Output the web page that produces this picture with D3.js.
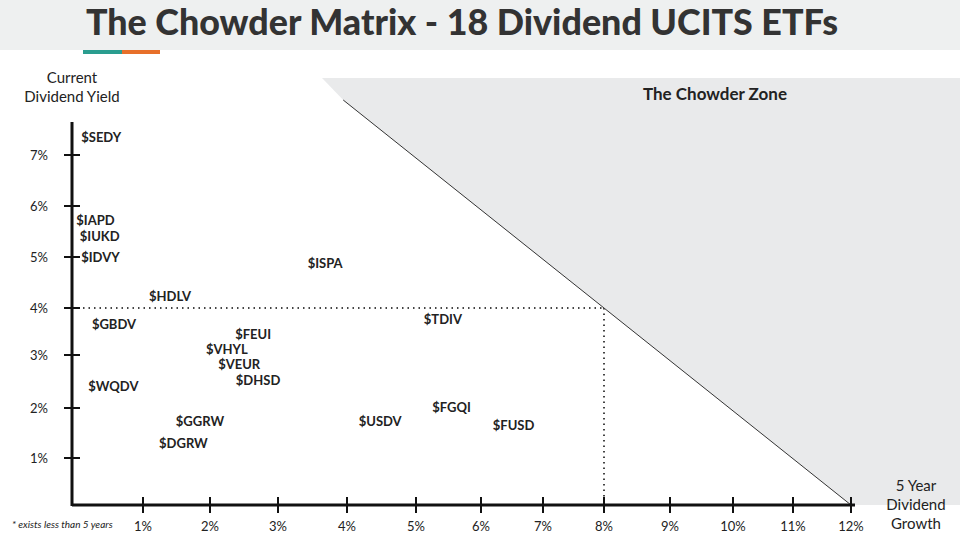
<!DOCTYPE html>
<html><head><meta charset="utf-8">
<script src="https://cdn.jsdelivr.net/npm/d3@7"></script>
<style>body{margin:0;background:#fff;font-family:Lato,sans-serif}</style>
</head><body><svg id="c" width="960" height="540"></svg>
<script>
// label anchors: dividend growth (%) and current yield (%)
const tickers = ['$SEDY','$IAPD','$IUKD','$IDVY','$ISPA','$HDLV','$GBDV','$TDIV','$FEUI','$VHYL','$VEUR','$DHSD','$WQDV','$FGQI','$GGRW','$USDV','$FUSD','$DGRW'];
const growth  = [0.13,0.06,0.11,0.13,3.43,1.09,0.28,5.12,2.37,1.94,2.12,2.38,0.23,5.25,1.49,4.17,6.19,1.24];
const yields  = [7.35,5.73,5.41,5.0,4.88,4.24,3.66,3.77,3.45,3.13,2.83,2.53,2.42,2.02,1.74,1.74,1.66,1.3];
const xTicks = [1,2,3,4,5,6,7,8,9,10,11,12];
const yTicks = [1,2,3,4,5,6,7];

const svg = d3.select('#c');
// hand-drawn grid in the original: uneven tick spacing
const x = d3.scaleLinear().domain([0,1,2,3,4,5,6,7,8,9,10,11,12])
  .range([72,143,210,278,347,416,481,543,604,670,733,793,851]);
const y = d3.scaleLinear().domain([0,1,2,3,4,5,6,7])
  .range([505,458,408,355,308,257,206,155]);

// header
svg.append('rect').attr('width',960).attr('height',50).attr('fill','#eef0f0');
svg.append('text').attr('x',462).attr('y',35).attr('text-anchor','middle')
  .attr('font-size',36).attr('font-weight',900).attr('fill','#333')
  .attr('textLength',752).attr('lengthAdjust','spacingAndGlyphs')
  .text('The Chowder Matrix - 18 Dividend UCITS ETFs');
svg.append('rect').attr('x',83).attr('y',50).attr('width',39).attr('height',4).attr('fill','#2a9d8f');
svg.append('rect').attr('x',122).attr('y',50).attr('width',38).attr('height',4).attr('fill','#e76f2a');

// chowder zone boundary through (8%,4%) and (12%,0%)
const p1 = [x(12),y(0)], p2 = [x(8),y(4)];
const k = (p1[0]-p2[0])/(p1[1]-p2[1]);
const zoneTop = [p2[0] - (p2[1]-100)*k, 100];
const zone = [[322,78],[960,78],[960,505],p1,zoneTop];
svg.append('path').attr('d',d3.line()(zone)).attr('fill','#e9eaeb');
svg.append('line').attr('x1',zoneTop[0]).attr('y1',zoneTop[1]).attr('x2',p1[0]).attr('y2',p1[1])
  .attr('stroke','#333').attr('stroke-width',1);
svg.append('text').attr('x',715).attr('y',100).attr('text-anchor','middle')
  .attr('font-size',17).attr('font-weight',700).attr('fill','#222').text('The Chowder Zone');

// dotted guides
svg.append('line').attr('x1',x(0)).attr('x2',x(8)).attr('y1',y(4)).attr('y2',y(4))
  .attr('stroke','#444').attr('stroke-width',2).attr('stroke-dasharray','1.5,4');
svg.append('line').attr('x1',x(8)).attr('x2',x(8)).attr('y1',y(4)).attr('y2',y(0))
  .attr('stroke','#444').attr('stroke-width',2).attr('stroke-dasharray','1.5,4');

// axes
const ax = svg.append('g').attr('stroke','#111').attr('stroke-width',3);
ax.append('line').attr('x1',72).attr('x2',855).attr('y1',505).attr('y2',505);
ax.append('line').attr('x1',72).attr('x2',72).attr('y1',122).attr('y2',506);
xTicks.forEach(t=>{
  ax.append('line').attr('x1',x(t)).attr('x2',x(t)).attr('y1',497).attr('y2',513).attr('stroke-width',2);
  svg.append('text').attr('x',x(t)).attr('y',531).attr('text-anchor','middle')
    .attr('font-size',13).attr('fill','#222').text(t+'%');
});
yTicks.forEach(t=>{
  ax.append('line').attr('x1',64).attr('x2',80).attr('y1',y(t)).attr('y2',y(t)).attr('stroke-width',2);
  svg.append('text').attr('x',48).attr('y',y(t)+5).attr('text-anchor','end')
    .attr('font-size',13).attr('fill','#222').text(t+'%');
});

// axis titles
[['Current',83],['Dividend Yield',102]].forEach(([s,yy])=>
  svg.append('text').attr('x',72).attr('y',yy).attr('text-anchor','middle').attr('font-size',15).attr('fill','#222').text(s));
[['5 Year',491],['Dividend',510],['Growth',529]].forEach(([s,yy])=>
  svg.append('text').attr('x',916).attr('y',yy).attr('text-anchor','middle').attr('font-size',15).attr('fill','#222').text(s));
svg.append('text').attr('x',12).attr('y',528).attr('font-size',10).attr('font-style','italic')
  .attr('fill','#222').text('* exists less than 5 years');

// ETF labels
svg.append('g').selectAll('text').data(tickers).enter().append('text')
  .attr('x',(d,i)=>x(growth[i]))
  .attr('y',(d,i)=>y(yields[i])+5)
  .attr('font-size',13).attr('font-weight',700).attr('fill','#222')
  .text(d=>d);
</script></body></html>
